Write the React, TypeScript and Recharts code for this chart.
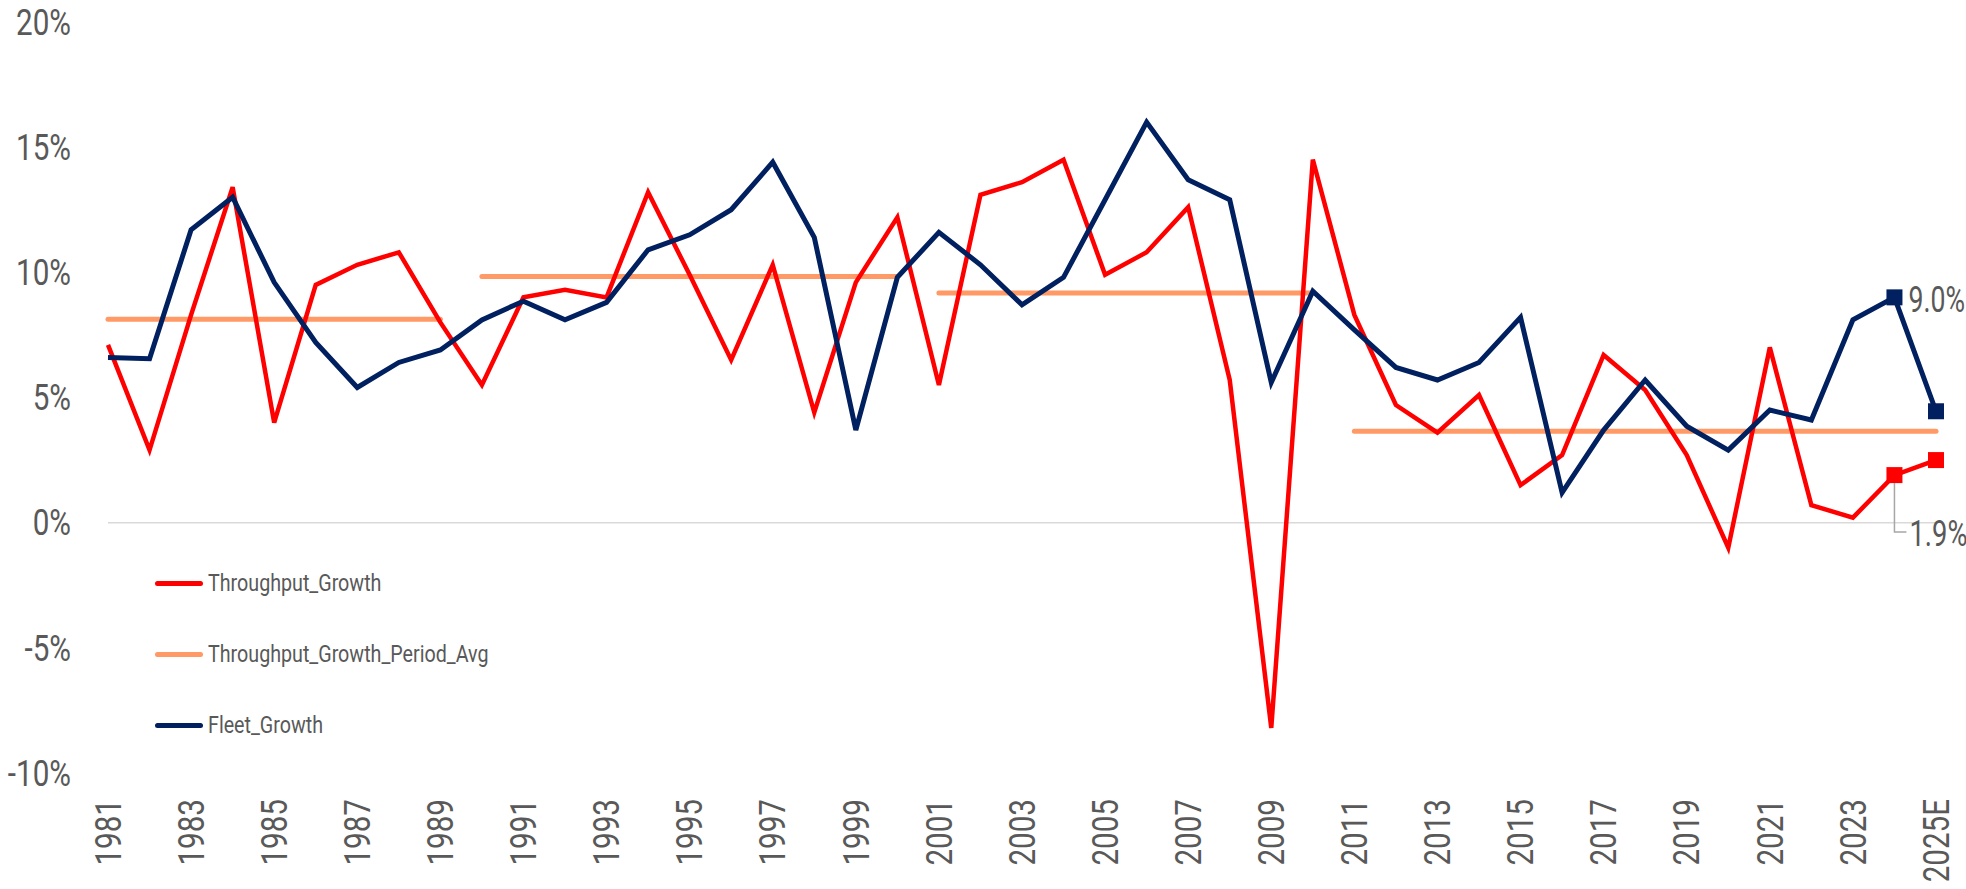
import React from "react";
import { LineChart, Line, XAxis, YAxis, ReferenceLine, LabelList } from "recharts";

const YEARS = [
  "1981", "1982", "1983", "1984", "1985", "1986", "1987", "1988", "1989", "1990",
  "1991", "1992", "1993", "1994", "1995", "1996", "1997", "1998", "1999", "2000",
  "2001", "2002", "2003", "2004", "2005", "2006", "2007", "2008", "2009", "2010",
  "2011", "2012", "2013", "2014", "2015", "2016", "2017", "2018", "2019", "2020",
  "2021", "2022", "2023", "2024", "2025E",
];

const THROUGHPUT_GROWTH = [
  7.1, 2.9, 8.3, 13.4, 4.0, 9.5, 10.3, 10.8, 8.0, 5.5,
  9.0, 9.3, 9.0, 13.2, 9.9, 6.5, 10.3, 4.4, 9.6, 12.2,
  5.5, 13.1, 13.6, 14.5, 9.9, 10.8, 12.6, 5.7, -8.2, 14.5,
  8.3, 4.7, 3.6, 5.1, 1.5, 2.7, 6.7, 5.3, 2.7, -1.0,
  7.0, 0.7, 0.2, 1.9, 2.5,
];

const FLEET_GROWTH = [
  6.6, 6.55, 11.7, 13.0, 9.6, 7.2, 5.4, 6.4, 6.9, 8.1,
  8.85, 8.1, 8.8, 10.9, 11.5, 12.5, 14.4, 11.4, 3.7, 9.8,
  11.6, 10.3, 8.7, 9.8, 12.9, 16.0, 13.7, 12.9, 5.6, 9.25,
  7.7, 6.2, 5.7, 6.4, 8.2, 1.2, 3.7, 5.7, 3.85, 2.9,
  4.5, 4.1, 8.1, 9.0, 4.45,
];

// period averages of throughput growth: first year, last year, value
const PERIOD_START = ["1981", "1990", "2001", "2011"];
const PERIOD_END = ["1989", "2000", "2010", "2025E"];
const PERIOD_AVG = [8.13, 9.83, 9.17, 3.65];

const Y_TICKS = [-10, -5, 0, 5, 10, 15, 20];

const RED = "#FF0000";
const NAVY = "#002060";
const ORANGE = "#FF9966";
const TEXT = "#595959";
const FONT = "Roboto, 'Noto Sans', sans-serif";
const SQUEEZE = 0.8; // Roboto squeezed to look like the condensed original

const data = YEARS.map((year, i) => {
  const row: Record<string, string | number | null> = {
    year,
    throughput: THROUGHPUT_GROWTH[i],
    fleet: FLEET_GROWTH[i],
  };
  PERIOD_AVG.forEach((v, p) => {
    const a = YEARS.indexOf(PERIOD_START[p]);
    const b = YEARS.indexOf(PERIOD_END[p]);
    row[`avg${p}`] = i >= a && i <= b ? v : null;
  });
  return row;
});

const LAST = YEARS.length - 1;

// condensed svg text
const CondText = ({ x, y, rotate = 0, anchor = "start", squeeze = SQUEEZE, children }: any) => (
  <text
    transform={`translate(${x}, ${y}) rotate(${rotate}) scale(${squeeze}, 1)`}
    textAnchor={anchor}
    dominantBaseline="central"
    fill={TEXT}
    fontSize={37}
    fontFamily={FONT}
  >
    {children}
  </text>
);

// square markers on the last two points only
const squareDot = (color: string) => (props: any) => {
  const { cx, cy, index } = props;
  if (index < LAST - 1 || cx == null) return <g key={`d${index}`} />;
  return <rect key={`d${index}`} x={cx - 8} y={cy - 8} width={16} height={16} fill={color} />;
};

const XTick = (props: any) => (
  <CondText x={props.x} y={props.y} rotate={-90} anchor="end">
    {props.payload.value}
  </CondText>
);

const YTick = (props: any) => (
  <CondText x={props.x} y={props.y} anchor="end">
    {`${props.payload.value}%`}
  </CondText>
);

const legendItems = [
  { name: "Throughput_Growth", color: RED },
  { name: "Throughput_Growth_Period_Avg", color: ORANGE },
  { name: "Fleet_Growth", color: NAVY },
];

export default function App() {
  return (
    <div style={{ position: "absolute", left: 0, top: 0, width: 1966, height: 889, background: "#fff" }}>
      <LineChart width={1966} height={889} data={data} margin={{ top: 22, right: 30, bottom: 0, left: 0 }}>
        <XAxis
          dataKey="year"
          interval={1}
          axisLine={false}
          tickLine={false}
          tickSize={0}
          tickMargin={26}
          height={116}
          tick={<XTick />}
        />
        <YAxis
          domain={[-10, 20]}
          ticks={Y_TICKS}
          width={108}
          axisLine={false}
          tickLine={false}
          tickSize={0}
          tickMargin={37}
          tick={<YTick />}
        />
        <ReferenceLine y={0} stroke="#D9D9D9" strokeWidth={1.5} />
        {PERIOD_AVG.map((_, p) => (
          <Line
            key={p}
            dataKey={`avg${p}`}
            stroke={ORANGE}
            strokeWidth={5}
            strokeLinecap="round"
            dot={false}
            activeDot={false}
            connectNulls={false}
            isAnimationActive={false}
          />
        ))}
        <Line
          dataKey="throughput"
          stroke={RED}
          strokeWidth={4.5}
          dot={squareDot(RED)}
          activeDot={false}
          isAnimationActive={false}
        >
          <LabelList
            dataKey="throughput"
            content={(p: any) => {
              if (p.index !== LAST - 1) return null;
              const x = Number(p.x);
              const y = Number(p.y);
              return (
                <g>
                  <polyline
                    points={`${x},${y + 8} ${x},${y + 57} ${x + 12},${y + 57}`}
                    fill="none"
                    stroke="#A6A6A6"
                    strokeWidth={1.5}
                  />
                  <CondText x={x + 15} y={y + 58} squeeze={0.74}>
                    {`${Number(p.value).toFixed(1)}%`}
                  </CondText>
                </g>
              );
            }}
          />
        </Line>
        <Line
          dataKey="fleet"
          stroke={NAVY}
          strokeWidth={5}
          dot={squareDot(NAVY)}
          activeDot={false}
          isAnimationActive={false}
        >
          <LabelList
            dataKey="fleet"
            content={(p: any) => {
              if (p.index !== LAST - 1) return null;
              return (
                <CondText x={Number(p.x) + 14} y={Number(p.y) + 2} squeeze={0.72}>
                  {`${Number(p.value).toFixed(1)}%`}
                </CondText>
              );
            }}
          />
        </Line>
      </LineChart>

      {/* legend sits inside the plot, lower left */}
      <div style={{ position: "absolute", left: 155, top: 566, fontFamily: FONT, fontSize: 24, color: TEXT }}>
        {legendItems.map((item) => (
          <div key={item.name} style={{ display: "flex", alignItems: "center", height: 34, marginBottom: 37 }}>
            <div style={{ width: 48, height: 5, borderRadius: 3, background: item.color, marginRight: 5, flexShrink: 0 }} />
            <span style={{ display: "inline-block", whiteSpace: "nowrap", transform: "scaleX(0.82)", transformOrigin: "left center" }}>
              {item.name}
            </span>
          </div>
        ))}
      </div>
    </div>
  );
}
